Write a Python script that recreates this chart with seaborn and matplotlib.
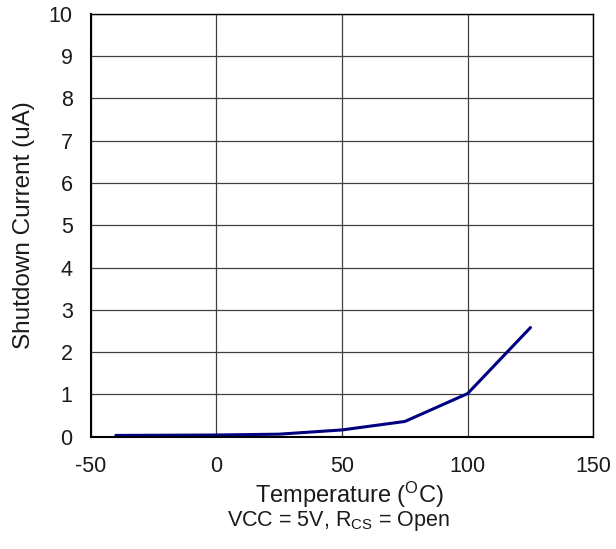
import matplotlib
matplotlib.use("Agg")
import matplotlib.pyplot as plt
import seaborn as sns
import pandas as pd

temperature = [-40, 0, 25, 50, 75, 100, 125]
shutdown_current = [0.03, 0.04, 0.06, 0.16, 0.36, 1.02, 2.58]
x_ticks = [-50, 0, 50, 100, 150]
y_ticks = [0, 1, 2, 3, 4, 5, 6, 7, 8, 9, 10]
xlabel_line1 = "Temperature ($^{\\mathrm{O}}$C)"
xlabel_line2 = "VCC = 5V, R$_{\\mathrm{CS}}$ = Open"
ylabel = "Shutdown Current (uA)"

sns.set_theme(style="white")
plt.rcParams['font.family'] = ['Liberation Sans', 'DejaVu Sans']
plt.rcParams['mathtext.fontset'] = 'custom'
plt.rcParams['mathtext.rm'] = 'Liberation Sans'
plt.rcParams['mathtext.it'] = 'Liberation Sans'

df = pd.DataFrame({"T": temperature, "I": shutdown_current})

W, H = 616, 549
fig = plt.figure(figsize=(W/100, H/100), dpi=100)
ax = fig.add_axes([90.7/W, 1-436.7/H, (593.3-90.7)/W, (436.7-13.7)/H])

sns.lineplot(data=df, x="T", y="I", ax=ax, color='#000080', linewidth=2.2)

ax.set_xlim(-50, 150)
ax.set_ylim(0, 10)
ax.set_xticks(x_ticks)
ax.set_yticks(y_ticks)
ax.set_xticklabels([str(v) for v in x_ticks])
ax.set_yticklabels([str(v) for v in y_ticks])
ax.grid(True, color='#404040', linewidth=0.9)
ax.tick_params(axis='both', length=0, labelsize=15.5, colors='#1a1a1a')
ax.tick_params(axis='x', pad=14)
ax.tick_params(axis='y', pad=13)

for side in ['left', 'bottom']:
    ax.spines[side].set_linewidth(1.5)
    ax.spines[side].set_color('black')
for side in ['top', 'right']:
    ax.spines[side].set_linewidth(1.0)
    ax.spines[side].set_color('black')

ax.set_xlabel("")
fig.text(349/W, 1-495/H, xlabel_line1, fontsize=17, color='#1a1a1a',
         ha='center', va='center')
fig.text(339/W, 1-521/H, xlabel_line2, fontsize=15.5, color='#1a1a1a',
         ha='center', va='center')
ax.set_ylabel(ylabel, fontsize=17.5, color='#1a1a1a', labelpad=10)

fig.savefig("out.png", dpi=100)
